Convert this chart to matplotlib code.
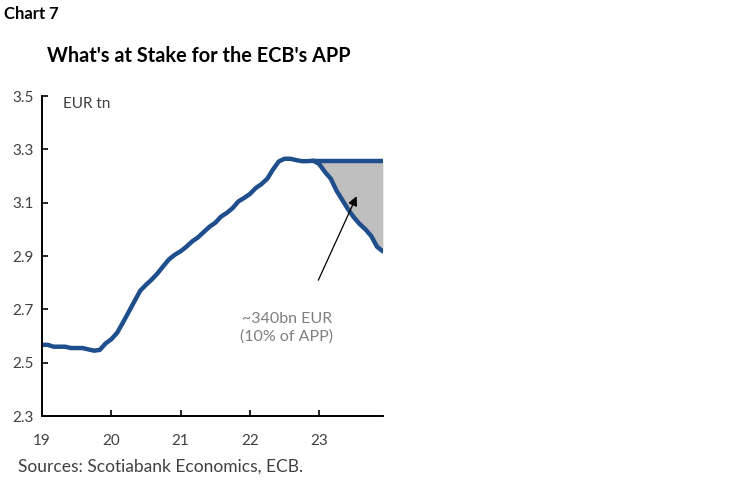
import numpy as np
import matplotlib.pyplot as plt

plt.rcParams['font.family'] = ['Lato', 'DejaVu Sans']

# monthly APP holdings, EUR tn, Jan 2019 - Dec 2023
app = [2.567, 2.567, 2.560, 2.560, 2.560, 2.555, 2.555, 2.555, 2.550, 2.545,
       2.548, 2.572, 2.588, 2.612, 2.650, 2.690, 2.730, 2.770, 2.792, 2.812,
       2.835, 2.862, 2.888, 2.905, 2.918, 2.935, 2.955, 2.970, 2.990, 3.010,
       3.025, 3.048, 3.062, 3.080, 3.105, 3.118, 3.133, 3.155, 3.170, 3.190,
       3.225, 3.255, 3.265, 3.265, 3.260, 3.256, 3.256, 3.258, 3.245, 3.215,
       3.190, 3.145, 3.110, 3.075, 3.045, 3.020, 3.000, 2.975, 2.935, 2.918]
flat_level = 3.258
flat_start = 47  # index where the flat line starts (Dec 2022)

years = 19 + np.arange(len(app)) / 12
app = np.array(app)
flat_x = years[flat_start:]
flat_y = np.full(len(flat_x), flat_level)

line_col = '#1f4e8c'
txt_col = '#404040'

fig = plt.figure(figsize=(7.5, 4.83), dpi=100)
ax = fig.add_axes([0.056, 0.1387, 0.4547, 0.6623])

ax.fill_between(flat_x, app[flat_start:], flat_y, color='#bfbfbf', lw=0)
ax.plot(flat_x, flat_y, color=line_col, lw=3.2, solid_capstyle='round')
ax.plot(years, app, color=line_col, lw=3.2, solid_capstyle='round')

ax.set_xlim(19, 23.92)
ax.set_ylim(2.3, 3.5)
ax.set_xticks([19, 20, 21, 22, 23])
ax.set_yticks([2.3, 2.5, 2.7, 2.9, 3.1, 3.3, 3.5])
ax.set_xticklabels(['19', '20', '21', '22', '23'])
ax.set_yticklabels(['2.3', '2.5', '2.7', '2.9', '3.1', '3.3', '3.5'])
ax.tick_params(direction='in', length=4, width=1.2, colors='black',
               labelcolor=txt_col, labelsize=11)
ax.tick_params(axis='x', pad=13)
ax.tick_params(axis='y', pad=6)
for s in ['top', 'right']:
    ax.spines[s].set_visible(False)
for s in ['left', 'bottom']:
    ax.spines[s].set_linewidth(1.4)

ax.text(19.3, 3.47, 'EUR tn', fontsize=11, color=txt_col,
        va='center', ha='left')

ax.annotate('', xy=(23.556, 3.134), xytext=(22.97, 2.80),
            arrowprops=dict(arrowstyle='-|>', color='black', lw=0.9,
                            mutation_scale=14))
ax.text(22.53, 2.632, '~340bn EUR\n(10% of APP)', fontsize=11.5,
        color='#7f7f7f', ha='center', va='center', linespacing=1.3)

fig.text(0.006, 0.97, 'Chart 7', fontsize=12, fontweight='bold', va='center')
fig.text(0.063, 0.885, "What's at Stake for the ECB's APP", fontsize=14.3,
         fontweight='bold', va='center')
fig.text(0.024, 0.033, 'Sources: Scotiabank Economics, ECB.', fontsize=12.5,
         color=txt_col, va='center')

fig.savefig('out.png', dpi=100)
